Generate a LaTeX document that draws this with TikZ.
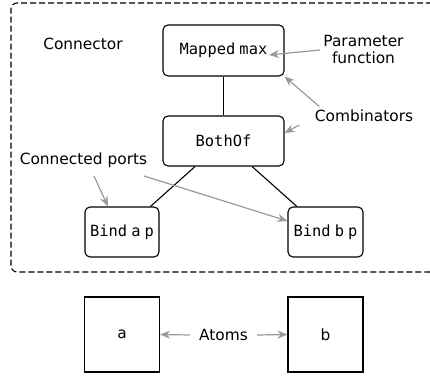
\documentclass[tikz,border=0pt]{standalone}
\usepackage{fontspec}
\setmainfont{DejaVu Sans}
\setmonofont[WordSpace=0.45]{DejaVu Sans Mono}
\usetikzlibrary{arrows.meta}

\begin{document}
\begin{tikzpicture}[
            x=1pt, y=1pt,
            font=\fontsize{15.4}{17}\selectfont,
            block/.style={draw, line width=1.1pt, rounded corners=5pt, font=\fontsize{15.4}{17}\selectfont\ttfamily},
            atom/.style={draw, line width=1.1pt, minimum width=75pt, minimum height=75pt},
            note/.style={align=center},
            pointer/.style={->, draw=black!40, line width=1.2pt, >={Stealth[length=10pt, width=8pt]}},
            link/.style={line width=1.1pt}
        ]
            \useasboundingbox (0, 0) rectangle (430, 377);

            % connector frame, cut at the right edge
            \draw[dash pattern=on 6pt off 3pt, line width=1.1pt, rounded corners=6pt]
                (432, 374) -- (11, 374) -- (11, 105) -- (432, 105);

            % blocks of the connector
            \node[block, minimum width=121pt, minimum height=51pt] (mapped) at (223.5, 326.5) {Mapped max};
            \node[block, minimum width=121pt, minimum height=50pt] (both) at (223.5, 236) {BothOf};
            \node[block, minimum width=74pt, minimum height=50pt] (binda) at (122, 145) {Bind a p};
            \node[block, minimum width=75pt, minimum height=50pt] (bindb) at (325.5, 145) {Bind b p};

            \draw[link] (mapped) -- (both);
            \draw[link] (both) -- (binda);
            \draw[link] (both) -- (bindb);

            % atoms
            \node[atom] (atoma) at (122, 42.5) {a};
            \node[atom] (atomb) at (325.5, 42.5) {b};

            % annotations
            \node[note] (connector) at (83, 333) {Connector};
            \node[note] (param) at (363.5, 327) {Parameter\\function};
            \node[note] (comb) at (364, 261) {Combinators};
            \node[note] (ports) at (83.5, 217) {Connected ports};
            \node[note, inner sep=9pt] (atoms) at (223.5, 42) {Atoms};

            \coordinate (maxend) at (269, 322);
            \draw[pointer] (param.west) -- (maxend);

            \draw[pointer] ([xshift=8pt]comb.north west) -- (mapped.south east);
            \draw[pointer] ([xshift=-12pt, yshift=-9pt]comb.west) -- ([yshift=8pt]both.east);

            \draw[pointer] ([xshift=10.5pt, yshift=-5pt]ports.south) -- ([xshift=-14pt]binda.north);
            \draw[pointer] ([xshift=60.5pt, yshift=-5pt]ports.south) -- ([yshift=11pt]bindb.west);

            \draw[pointer] (atoms.west) -- (atoma.east);
            \draw[pointer] (atoms.east) -- (atomb.west);
        \end{tikzpicture}
\end{document}
